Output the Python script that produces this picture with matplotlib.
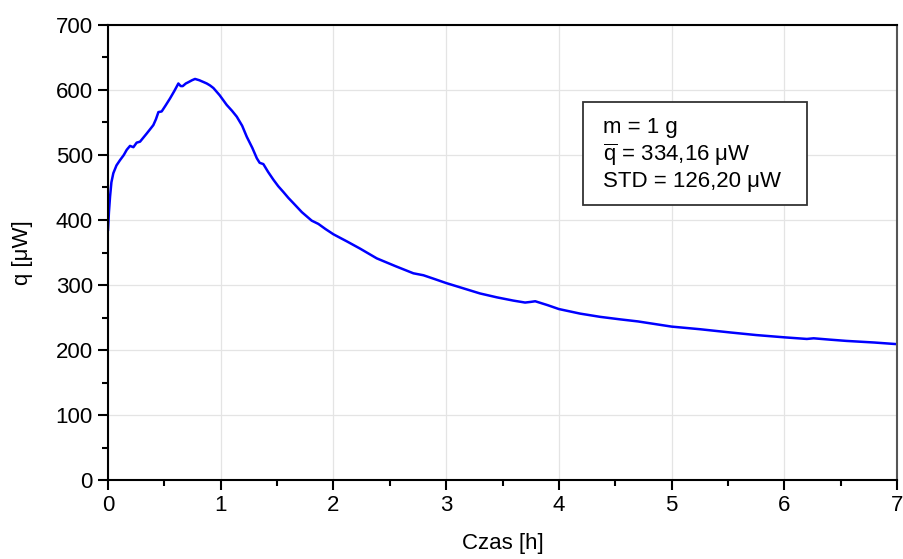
import matplotlib
matplotlib.use("Agg")
import matplotlib.pyplot as plt
from matplotlib.ticker import MultipleLocator
from matplotlib.patches import Rectangle

plt.rcParams['font.family'] = ['Liberation Sans', 'DejaVu Sans']
plt.rcParams['mathtext.fontset'] = 'custom'
plt.rcParams['mathtext.rm'] = 'Liberation Sans'
plt.rcParams['mathtext.it'] = 'Liberation Sans:italic'

time_h = [0.0, 0.008, 0.018, 0.03, 0.047, 0.075, 0.106, 0.14, 0.166, 0.195,
          0.225, 0.254, 0.284, 0.31, 0.343, 0.375, 0.402, 0.425, 0.447, 0.476,
          0.51, 0.55, 0.59, 0.624, 0.645, 0.663, 0.69, 0.713, 0.745, 0.772,
          0.81, 0.85, 0.876, 0.905, 0.935, 0.99, 1.053, 1.10, 1.142, 1.19,
          1.231, 1.28, 1.32, 1.345, 1.378, 1.42, 1.467, 1.51, 1.556, 1.60,
          1.644, 1.72, 1.807, 1.866, 1.93, 2.0, 2.12, 2.236, 2.384, 2.55,
          2.709, 2.798, 2.9, 3.0, 3.15, 3.3, 3.45, 3.596, 3.70, 3.75,
          3.79, 3.9, 4.0, 4.188, 4.366, 4.55, 4.7, 5.0, 5.25, 5.52,
          5.75, 6.0, 6.2, 6.26, 6.4, 6.55, 6.8, 7.0]
q_uW = [385, 412, 436, 458, 472, 484, 492, 500, 508, 514,
        512, 519, 520.5, 526, 533, 540, 546, 555, 566, 567,
        576, 587, 599, 610, 606, 606, 610, 612, 615, 617,
        615, 612, 610, 607, 603, 592, 577, 568, 559, 545,
        528, 511, 495, 488, 486, 474, 462, 452, 443, 434,
        426, 412, 399, 394, 386, 378, 367, 356, 341, 329,
        318, 315, 309, 303, 295, 287, 281, 276, 273, 274,
        275, 269, 263, 256, 251, 247, 244, 236, 232, 227,
        223, 219.5, 217, 218, 216, 214, 211.5, 209]

info_lines = ["m = 1 g", r"$\overline{\mathrm{q}}$ = 334,16 μW", "STD = 126,20 μW"]

FS = 16

fig = plt.figure(figsize=(9.04, 5.59), dpi=100)
ax = fig.add_axes([0.1195, 0.1413, 0.8728, 0.814])
ax.plot(time_h, q_uW, color='#0000ff', lw=1.8)

ax.set_xlim(0, 7)
ax.set_ylim(0, 700)
ax.xaxis.set_major_locator(MultipleLocator(1))
ax.xaxis.set_minor_locator(MultipleLocator(0.5))
ax.yaxis.set_major_locator(MultipleLocator(100))
ax.yaxis.set_minor_locator(MultipleLocator(50))
ax.grid(True, which='major', color='#e4e4e4', lw=0.9)
ax.set_axisbelow(True)
ax.tick_params(which='major', direction='out', length=7, width=1.5, labelsize=FS, pad=4)
ax.tick_params(which='minor', direction='out', length=4, width=1.5)
ax.tick_params(top=False, right=False, which='both')
for s in ['left', 'bottom', 'top']:
    ax.spines[s].set_linewidth(1.5)
    ax.spines[s].set_color('black')
ax.spines['right'].set_linewidth(1.5)
ax.spines['right'].set_color('#555555')

ax.set_xlabel("Czas [h]", fontsize=FS, labelpad=12)
ax.set_ylabel("q [μW]", fontsize=FS, labelpad=16)

bx0, by0 = fig.transFigure.inverted().transform((583, 559 - 205))
bx1, by1 = fig.transFigure.inverted().transform((807, 559 - 102))
fig.patches.append(Rectangle((bx0, by0), bx1 - bx0, by1 - by0, transform=fig.transFigure,
                             facecolor='white', edgecolor='#333333', lw=1.3, zorder=5))
for i, t in enumerate(info_lines):
    y = 1 - (127 + 27.5 * i) / 559
    fig.text(603 / 904, y, t, fontsize=FS, va='center', ha='left', zorder=6)

fig.savefig("out.png", dpi=100)
